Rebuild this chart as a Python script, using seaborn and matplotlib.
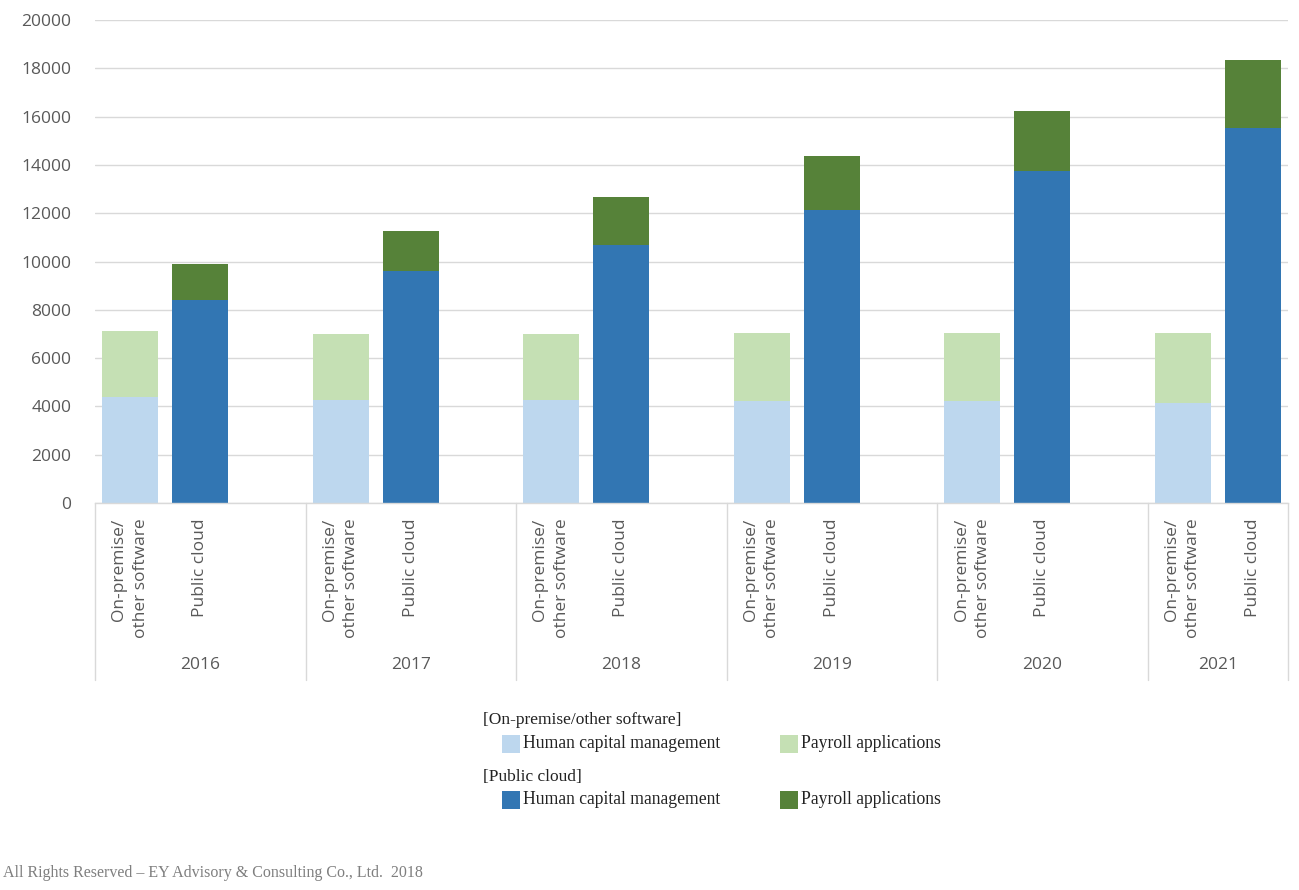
import pandas as pd
import seaborn as sns
import matplotlib.pyplot as plt
from matplotlib.patches import Rectangle
import matplotlib.transforms as mtransforms

# values (stacked: HCM at the bottom, payroll on top)
years = ["2016", "2017", "2018", "2019", "2020", "2021"]
onprem_hcm = [4400, 4280, 4280, 4220, 4220, 4150]
onprem_payroll = [2730, 2710, 2710, 2840, 2840, 2910]
cloud_hcm = [8410, 9590, 10680, 12150, 13760, 15510]
cloud_payroll = [1500, 1690, 2010, 2210, 2460, 2830]
deploy_labels = ["On-premise/\nother software", "Public cloud"]

# one slot per bar, plus an empty slot between years
rows = []
order = []
tick_labels = []
for i, yr in enumerate(years):
    for kind, hcm, pay in [("onprem", onprem_hcm[i], onprem_payroll[i]),
                           ("cloud", cloud_hcm[i], cloud_payroll[i])]:
        slot = f"{yr}-{kind}"
        rows.append({"slot": slot, "kind": kind, "hcm": hcm, "total": hcm + pay})
        order.append(slot)
    tick_labels += deploy_labels
    if i < len(years) - 1:
        order.append(f"{yr}-gap")
        tick_labels.append("")
df = pd.DataFrame(rows)

c_light_blue = "#BDD7EE"
c_light_green = "#C5E0B4"
c_blue = "#3276B3"
c_green = "#568239"

sns.set_style("white")
plt.rcParams["font.family"] = ["Open Sans", "DejaVu Sans"]

fig = plt.figure(figsize=(12.99, 8.9), dpi=100)
ax = fig.add_axes([95 / 1299, 1 - 503 / 890, 1193 / 1299, 483 / 890])

# totals first (payroll colour), then HCM drawn over the lower part
sns.barplot(data=df, x="slot", y="total", hue="kind", order=order, dodge=False,
            palette={"onprem": c_light_green, "cloud": c_green},
            width=0.8, legend=False, ax=ax, saturation=1, linewidth=0)
sns.barplot(data=df, x="slot", y="hcm", hue="kind", order=order, dodge=False,
            palette={"onprem": c_light_blue, "cloud": c_blue},
            width=0.8, legend=False, ax=ax, saturation=1, linewidth=0)

ax.set_ylim(0, 20000)
ax.set_xlim(-0.5, len(order) - 0.5)
ax.set_yticks(range(0, 20001, 2000))
ax.yaxis.grid(True, color="#D9D9D9", linewidth=1.0)
ax.set_axisbelow(True)
for s in ["top", "right", "left"]:
    ax.spines[s].set_visible(False)
ax.spines["bottom"].set_color("#D9D9D9")
ax.spines["bottom"].set_linewidth(1.0)
ax.set_xlabel("")
ax.set_ylabel("")

ax.set_xticks(range(len(order)))
ax.set_xticklabels(tick_labels, rotation=90, va="top", ha="center",
                   multialignment="right", linespacing=1.45,
                   fontsize=12.5, color="#595959")
ax.tick_params(axis="x", length=0, pad=11)
ax.tick_params(axis="y", length=0, pad=17, labelsize=12.5, labelcolor="#595959")

# group separators and year labels below the axis
trans = mtransforms.blended_transform_factory(ax.transData, ax.transAxes)
bottom = -(680 - 503) / 483
bounds = [-0.5] + [3 * i + 2.5 for i in range(len(years) - 1)] + [len(order) - 0.5]
for b in bounds:
    ax.plot([b, b], [0, bottom], color="#D9D9D9", linewidth=1.0,
            transform=trans, clip_on=False)
for i, yr in enumerate(years):
    mid = (bounds[i] + bounds[i + 1]) / 2
    ax.text(mid, -(665 - 503) / 483, yr, transform=trans, ha="center", va="center",
            fontsize=12.5, color="#595959")

# legend, laid out like the original
serif = ["Liberation Serif", "DejaVu Serif"]
legend_groups = [
    ("[On-premise/other software]", c_light_blue, c_light_green, 720, 744),
    ("[Public cloud]", c_blue, c_green, 777, 800),
]
for title, col_a, col_b, ty, ry in legend_groups:
    fig.text(483 / 1299, 1 - ty / 890, title, family=serif, fontsize=12.5,
             va="center", ha="left", color="#222222")
    for x0, col, lab in [(502, col_a, "Human capital management"),
                         (780, col_b, "Payroll applications")]:
        fig.patches.append(Rectangle((x0 / 1299, 1 - (ry + 9) / 890), 18 / 1299, 18 / 890,
                                     transform=fig.transFigure, facecolor=col,
                                     edgecolor="none"))
        fig.text((x0 + 21) / 1299, 1 - ry / 890, lab, family=serif, fontsize=12.7,
                 va="center", ha="left", color="#222222")

fig.text(3 / 1299, 1 - 873 / 890, "All Rights Reserved \u2013 EY Advisory & Consulting Co., Ltd.  2018",
         family=serif, fontsize=11.5, va="center", ha="left", color="#7F7F7F")

fig.savefig("out.png", dpi=100)
